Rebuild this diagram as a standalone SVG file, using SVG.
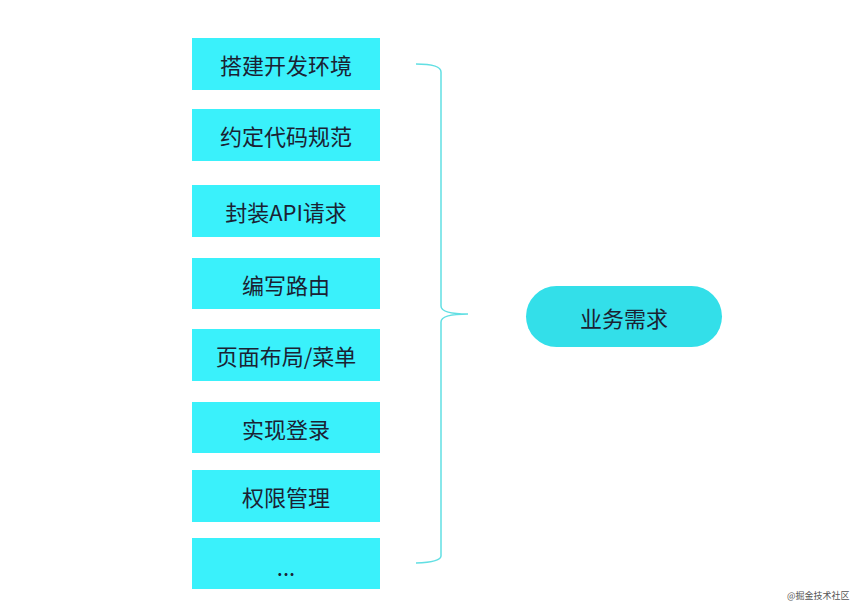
<svg xmlns="http://www.w3.org/2000/svg" width="861" height="612" viewBox="0 0 861 612">
<style>
.box{fill:#3af1fb}
.lbl{font-family:"Noto Sans CJK SC","Noto Sans",sans-serif;font-size:22px;fill:#1b2233;text-anchor:middle;dominant-baseline:central}
.brace{fill:none;stroke:#62dfe3;stroke-width:1.5}
.wm{font-family:"Noto Sans CJK SC",sans-serif;font-size:9px;fill:#555}
</style>
<rect width="861" height="612" fill="#ffffff"/>
<g id="n1"><rect class="box" x="192" y="38" width="188" height="52"/><text class="lbl" x="286" y="64">搭建开发环境</text></g>
<g id="n2"><rect class="box" x="192" y="109" width="188" height="52"/><text class="lbl" x="286" y="135">约定代码规范</text></g>
<g id="n3"><rect class="box" x="192" y="185" width="188" height="52"/><text class="lbl" x="286" y="211">封装API请求</text></g>
<g id="n4"><rect class="box" x="192" y="258" width="188" height="51"/><text class="lbl" x="286" y="284">编写路由</text></g>
<g id="n5"><rect class="box" x="192" y="329" width="188" height="52"/><text class="lbl" x="286" y="355">页面布局/菜单</text></g>
<g id="n6"><rect class="box" x="192" y="402" width="188" height="51"/><text class="lbl" x="286" y="428">实现登录</text></g>
<g id="n7"><rect class="box" x="192" y="470" width="188" height="52"/><text class="lbl" x="286" y="496">权限管理</text></g>
<g id="n8"><rect class="box" x="192" y="538" width="188" height="51"/><text class="lbl" x="286" y="566">...</text></g>
<g id="connectors"><path class="brace" d="M416,64 Q441,64 441,72 L441,306 Q441,314 468,314 Q441,314 441,322 L441,556 Q441,562 416,563"/></g>
<g id="goal"><rect x="526" y="286" width="196" height="61" rx="30.5" fill="#33dfe9"/><text class="lbl" x="624" y="317">业务需求</text></g>
<text class="wm" x="787" y="599">@掘金技术社区</text>
</svg>
